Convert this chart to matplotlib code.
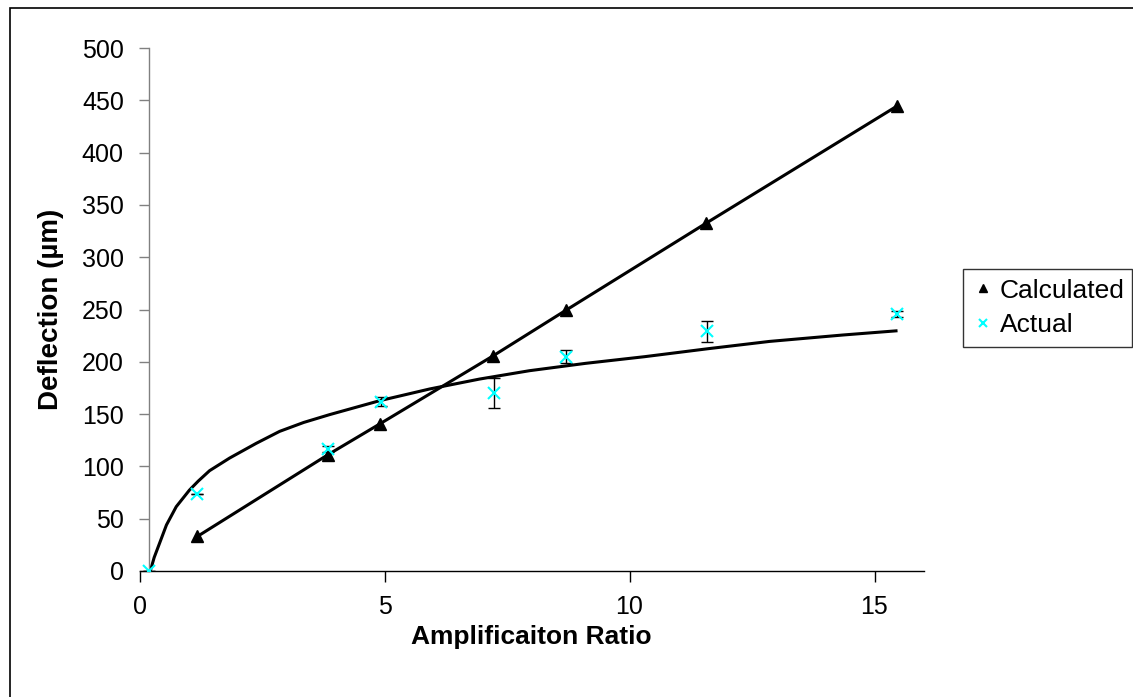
import matplotlib
matplotlib.use("Agg")
import matplotlib.pyplot as plt
from matplotlib.patches import Rectangle

plt.rcParams['font.family'] = ['Liberation Sans', 'DejaVu Sans']

# Data
calc_x = [1.18, 3.84, 4.90, 7.21, 8.71, 11.56, 15.46]
calc_y = [33, 111, 140.5, 205.5, 249.5, 332.4, 444.5]

actual_x = [0.19, 1.18, 3.84, 4.93, 7.24, 8.71, 11.58, 15.46]
actual_y = [0, 73.6, 116.6, 161.9, 169.9, 204.9, 229.4, 245.7]
actual_err = [0, 0, 3, 4, 14.5, 6.4, 10, 3]

# Logarithmic trendline of "Actual"
trend_x = [0.22, 0.30, 0.41, 0.55, 0.75, 1.02, 1.20, 1.43, 1.84, 2.38, 2.86,
           3.35, 3.88, 4.90, 5.92, 6.94, 7.96, 9.10, 10.31, 11.60, 12.86,
           14.35, 15.47]
trend_y = [0, 13, 26.6, 44, 61.5, 77.4, 86, 95.9, 108, 122, 133.5,
           142, 149.5, 162.8, 174.0, 183.5, 191.5, 198.5, 204.9, 212.5, 219.5,
           225.6, 229.7]

x_ticks = [0, 5, 10, 15]
y_ticks = list(range(0, 501, 50))

W, H = 1133, 697
fig = plt.figure(figsize=(W / 100, H / 100), dpi=100)
ax = fig.add_axes([139.5 / W, (H - 571) / H, (923.5 - 139.5) / W, (571 - 48) / H])

# outer chart frame
fig.patches.append(Rectangle((10 / W, -0.05), 1.2, (H - 8) / H + 0.05,
                             transform=fig.transFigure, fill=False,
                             edgecolor='black', linewidth=1.2))

ax.plot(trend_x, trend_y, color='black', linewidth=2.2, zorder=2,
        solid_capstyle='butt')
ax.plot(calc_x, calc_y, color='black', linewidth=2.2, marker='^',
        markersize=8, markerfacecolor='black', markeredgecolor='black',
        label='Calculated', zorder=3)
ax.errorbar(actual_x, actual_y, yerr=actual_err, fmt='none', ecolor='black',
            elinewidth=1.0, capsize=4.6, capthick=1.0, zorder=4)
ax.plot(actual_x, actual_y, linestyle='none', marker='x', markersize=8,
        markeredgewidth=1.5, color='#00FFFF', label='Actual', zorder=5)

ax.set_xlim(0, 16)
ax.set_ylim(0, 500)
ax.set_xticks(x_ticks)
ax.set_yticks(y_ticks)
ax.tick_params(axis='x', direction='out', length=8, width=1, labelsize=18, pad=9)
ax.tick_params(axis='y', direction='out', length=7, width=1, labelsize=18, pad=11)
ax.spines['top'].set_visible(False)
ax.spines['right'].set_visible(False)
ax.spines['left'].set_position(('data', actual_x[0]))
ax.spines['left'].set_color('#808080')
ax.spines['bottom'].set_color('black')
ax.spines['left'].set_linewidth(1)
ax.spines['bottom'].set_linewidth(1)
ax.tick_params(axis='y', color='#808080')

ax.set_xlabel('Amplificaiton Ratio', fontsize=19, fontweight='bold')
ax.set_ylabel('Deflection (µm)', fontsize=20, fontweight='bold')
ax.xaxis.set_label_coords(0.5, -(625 - 571) / 523)
ax.yaxis.set_label_coords(-(139.5 - 64) / 784, 0.5)

leg = fig.legend(loc='center', bbox_to_anchor=(963 / W, (H - 349) / H, 169 / W, 82 / H),
                 mode='expand', fontsize=19, frameon=True, fancybox=False,
                 edgecolor='black', handlelength=0.8, handletextpad=0.25,
                 labelspacing=0.4, borderpad=0.35, markerscale=0.8,
                 borderaxespad=0)
leg.get_frame().set_linewidth(1.0)
for h in leg.legend_handles:
    h.set_linestyle('none')

fig.savefig('out.png', dpi=100)
